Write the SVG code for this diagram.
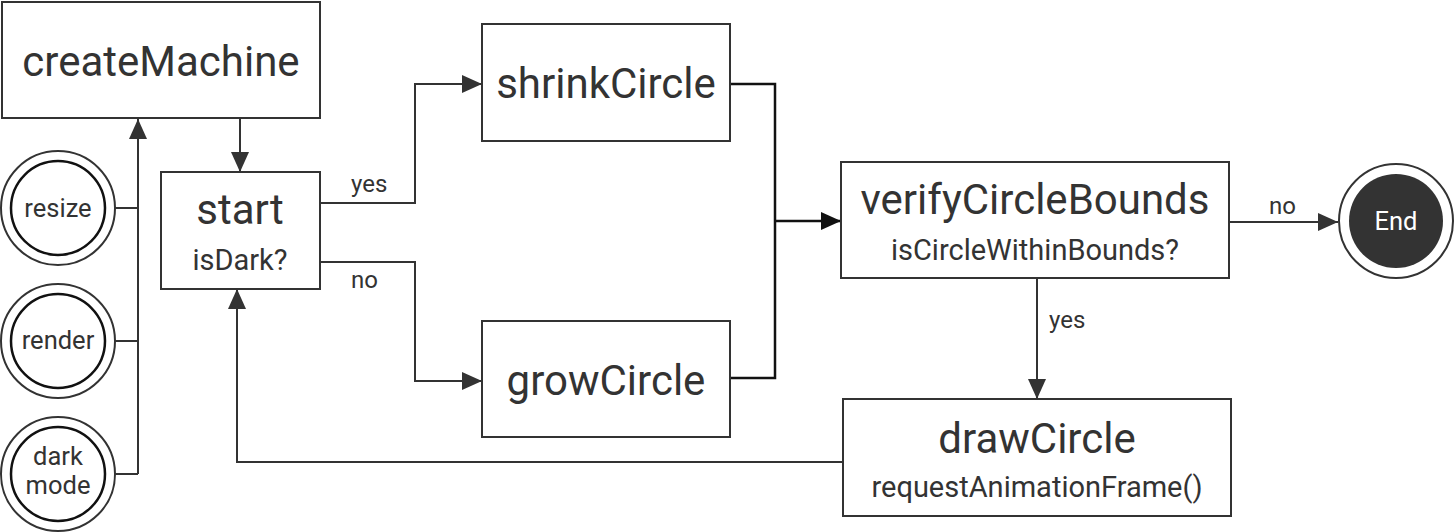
<svg xmlns="http://www.w3.org/2000/svg" width="1455" height="532" viewBox="0 0 1455 532">
<defs>
<style>
.box{fill:#fff;stroke:#333;stroke-width:2}
.t{font-family:Roboto,"Liberation Sans",sans-serif;fill:#333;text-anchor:middle}
.big{font-size:42px}
.sub{font-size:29px}
.sm{font-size:25.5px}
.lbl{font-family:Roboto,"Liberation Sans",sans-serif;fill:#333;font-size:24px}
.c{fill:none;stroke:#333;stroke-width:2}
.cb{fill:none;stroke:#111;stroke-width:2.5}
.outer{fill:#fff;stroke:#333;stroke-width:2}
.inner{fill:none;stroke:#111;stroke-width:2.5}
</style>
<marker id="ah" viewBox="0 0 20 20" refX="20" refY="10" markerWidth="20" markerHeight="20" markerUnits="userSpaceOnUse" orient="auto">
<path d="M0,1 L20,10 L0,19 Z" fill="#333"/>
</marker>
<marker id="ahb" viewBox="0 0 20 20" refX="20" refY="10" markerWidth="20" markerHeight="20" markerUnits="userSpaceOnUse" orient="auto">
<path d="M0,1 L20,10 L0,19 Z" fill="#111"/>
</marker>
</defs>
<rect width="1455" height="532" fill="#fff"/>
<g id="connectors">
<path class="c" d="M240,118 V172" marker-end="url(#ah)"/>
<path class="c" d="M138,474 V119" marker-end="url(#ah)"/>
<path class="c" d="M115,208 H138"/>
<path class="c" d="M115,341 H138"/>
<path class="c" d="M115,474 H138"/>
<path class="c" d="M320,203 H415 V84 H482" marker-end="url(#ah)"/>
<path class="c" d="M320,262 H415 V381 H482" marker-end="url(#ah)"/>
<path class="cb" d="M730,84 H775 V378 H730"/>
<path class="cb" d="M775,221 H841" marker-end="url(#ahb)"/>
<path class="c" d="M1229,222 H1338" marker-end="url(#ah)"/>
<path class="c" d="M1037,278 V399" marker-end="url(#ah)"/>
<path class="c" d="M843,462 H237 V289" marker-end="url(#ah)"/>
<text class="lbl" x="351" y="192">yes</text>
<text class="lbl" x="351" y="288">no</text>
<text class="lbl" x="1269" y="214">no</text>
<text class="lbl" x="1049" y="328">yes</text>
</g>
<g id="createMachine">
<rect class="box" x="2" y="2" width="318" height="116"/>
<text class="t big" x="161" y="76">createMachine</text>
</g>
<g id="start">
<rect class="box" x="161" y="172" width="159" height="117"/>
<text class="t big" x="240" y="224">start</text>
<text class="t sub" x="240" y="270">isDark?</text>
</g>
<g id="shrinkCircle">
<rect class="box" x="482" y="24" width="248" height="117"/>
<text class="t big" x="606" y="98">shrinkCircle</text>
</g>
<g id="growCircle">
<rect class="box" x="482" y="321" width="248" height="116"/>
<text class="t big" x="606" y="395">growCircle</text>
</g>
<g id="verifyCircleBounds">
<rect class="box" x="841" y="162" width="388" height="116"/>
<text class="t big" x="1035" y="214">verifyCircleBounds</text>
<text class="t sub" x="1035" y="260">isCircleWithinBounds?</text>
</g>
<g id="drawCircle">
<rect class="box" x="843" y="399" width="388" height="117"/>
<text class="t big" x="1037" y="453">drawCircle</text>
<text class="t sub" x="1037" y="497">requestAnimationFrame()</text>
</g>
<g id="End">
<circle class="outer" cx="1396" cy="221" r="57"/>
<circle cx="1396" cy="221" r="47" fill="#333"/>
<text class="t sm" x="1396" y="230" style="fill:#fff">End</text>
</g>
<g id="resize">
<circle class="outer" cx="58" cy="208" r="57"/>
<circle class="inner" cx="58" cy="208" r="47"/>
<text class="t sm" x="58" y="217">resize</text>
</g>
<g id="render">
<circle class="outer" cx="58" cy="341" r="57"/>
<circle class="inner" cx="58" cy="341" r="47"/>
<text class="t sm" x="58" y="349">render</text>
</g>
<g id="darkmode">
<circle class="outer" cx="58" cy="474" r="57"/>
<circle class="inner" cx="58" cy="474" r="47"/>
<text class="t sm" x="58" y="465">dark</text>
<text class="t sm" x="58" y="494">mode</text>
</g>
</svg>
